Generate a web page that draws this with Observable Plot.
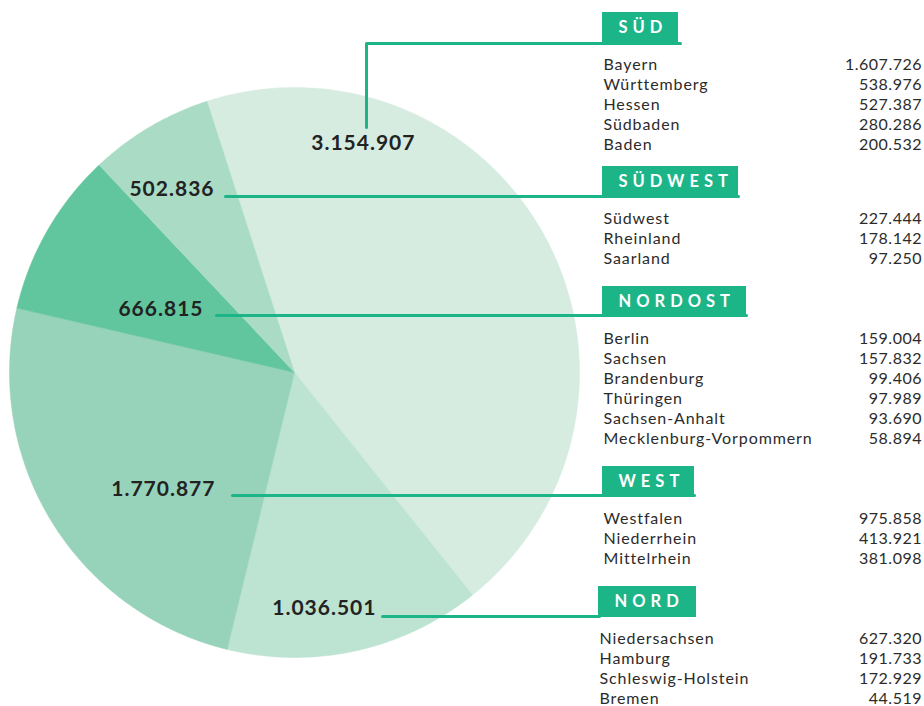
<!DOCTYPE html>
<html>
<head>
<meta charset="utf-8">
<script src="https://cdn.jsdelivr.net/npm/d3@7"></script>
<script src="https://cdn.jsdelivr.net/npm/@observablehq/plot@0.6"></script>
<style>
  body { margin: 0; background: #fff; }
  .hdr text { letter-spacing: 5px; }
  .rowname text { letter-spacing: 0.9px; }
  .rowval text { letter-spacing: 0.5px; }
  .pielab text { letter-spacing: 1px; }
</style>
</head>
<body>
<div id="chart"></div>
<script>
// ---- Data ----
const regions = ["Süd", "Nord", "West", "Nordost", "Südwest"]; // clockwise pie order
const regionTotals = [3154907, 1036501, 1770877, 666815, 502836];

const tableOrder = ["Süd", "Südwest", "Nordost", "West", "Nord"];
const sudNames = ["Bayern", "Württemberg", "Hessen", "Südbaden", "Baden"];
const sudValues = [1607726, 538976, 527387, 280286, 200532];
const suedwestNames = ["Südwest", "Rheinland", "Saarland"];
const suedwestValues = [227444, 178142, 97250];
const nordostNames = ["Berlin", "Sachsen", "Brandenburg", "Thüringen", "Sachsen-Anhalt", "Mecklenburg-Vorpommern"];
const nordostValues = [159004, 157832, 99406, 97989, 93690, 58894];
const westNames = ["Westfalen", "Niederrhein", "Mittelrhein"];
const westValues = [975858, 413921, 381098];
const nordNames = ["Niedersachsen", "Hamburg", "Schleswig-Holstein", "Bremen"];
const nordValues = [627320, 191733, 172929, 44519];

// ---- Styles / layout ----
const sliceColors = {"Süd": "#d6ece1", "Nord": "#bde3d2", "West": "#97d3bb", "Nordost": "#61c59d", "Südwest": "#a9dbc5"};
const green = "#1cb588";
const pieLayout = {cx: 294, cy: 372, r: 285, startDeg: -17.9};
const labelLayout = {
  "Süd":     {x: 415, y: 143, line: [[366,127],[366,43],[680,43]]},
  "Südwest": {x: 214, y: 188.5, line: [[225,196],[738,196]]},
  "Nordost": {x: 203, y: 309, line: [[216,315],[746,315]]},
  "West":    {x: 215, y: 489, line: [[232,495],[694,495]]},
  "Nord":    {x: 376, y: 608, line: [[382,616],[599,616],[599,588]]}
};
const headerLayout = {
  "Süd":     {x1: 602, x2: 678, y1: 12, y2: 43},
  "Südwest": {x1: 602, x2: 738, y1: 166, y2: 197},
  "Nordost": {x1: 602, x2: 746, y1: 286, y2: 316},
  "West":    {x1: 602, x2: 694, y1: 466, y2: 496},
  "Nord":    {x1: 598, x2: 696, y1: 586, y2: 617}
};
const valueRight = 921.5;

// ---- Build ----
const de = d3.formatLocale({decimal: ",", thousands: ".", grouping: [3], currency: ["", "€"]});
const fmt = de.format(",d");

const sliceData = regions.map((r, i) => ({region: r, value: regionTotals[i]}));
const start = pieLayout.startDeg * Math.PI / 180;
const arcs = d3.pie().sort(null).value(d => d.value).startAngle(start).endAngle(start + 2 * Math.PI)(sliceData);

function slicePoints(a) {
  const pts = [{x: pieLayout.cx, y: pieLayout.cy}];
  const n = Math.max(2, Math.ceil((a.endAngle - a.startAngle) / (Math.PI / 360)));
  for (let k = 0; k <= n; k++) {
    const t = a.startAngle + (a.endAngle - a.startAngle) * k / n;
    pts.push({x: pieLayout.cx + pieLayout.r * Math.sin(t), y: pieLayout.cy - pieLayout.r * Math.cos(t)});
  }
  pts.push({x: pieLayout.cx, y: pieLayout.cy});
  return pts;
}

const sliceMarks = arcs.map(a => Plot.line(slicePoints(a), {
  x: "x", y: "y", fill: sliceColors[a.data.region], stroke: sliceColors[a.data.region], strokeWidth: 0.5, curve: "linear"
}));

const pieLabels = sliceData.map(d => ({text: fmt(d.value), x: labelLayout[d.region].x, y: labelLayout[d.region].y}));

const connectorPts = [];
regions.forEach(r => labelLayout[r].line.forEach(([x, y]) => connectorPts.push({region: r, x, y})));

const tables = {
  "Süd": [sudNames, sudValues],
  "Südwest": [suedwestNames, suedwestValues],
  "Nordost": [nordostNames, nordostValues],
  "West": [westNames, westValues],
  "Nord": [nordNames, nordValues]
};
const headers = tableOrder.map(r => ({...headerLayout[r], label: r.toUpperCase(), cy: (headerLayout[r].y1 + headerLayout[r].y2) / 2}));
const rows = [];
tableOrder.forEach(r => {
  const [names, vals] = tables[r];
  const h = headerLayout[r];
  const c = (h.y1 + h.y2) / 2;
  names.forEach((n, i) => rows.push({name: n, value: fmt(vals[i]), xName: h.x1 + 1, y: c + 37 + i * 20}));
});

const chart = Plot.plot({
  width: 924,
  height: 706,
  margin: 0,
  x: {domain: [0, 924], range: [0, 924], axis: null},
  y: {domain: [0, 706], range: [0, 706], axis: null},
  style: {fontFamily: "Lato, sans-serif", background: "#fff"},
  marks: [
    ...sliceMarks,
    Plot.line(connectorPts, {x: "x", y: "y", z: "region", stroke: green, strokeWidth: 3, curve: "linear"}),
    Plot.rect(headers, {x1: "x1", x2: "x2", y1: "y1", y2: "y2", fill: green}),
    Plot.text(headers, {x: d => d.x1 + 16, y: "cy", text: "label", textAnchor: "start", fill: "#fff", fontSize: 16.5, fontWeight: "bold", className: "hdr"}),
    Plot.text(pieLabels, {x: "x", y: "y", text: "text", textAnchor: "end", fill: "#222", fontSize: 21, fontWeight: "bold", className: "pielab"}),
    Plot.text(rows, {x: "xName", y: "y", text: "name", textAnchor: "start", fill: "#2b2b2b", fontSize: 16, className: "rowname"}),
    Plot.text(rows, {x: () => valueRight, y: "y", text: "value", textAnchor: "end", fill: "#2b2b2b", fontSize: 16, className: "rowval"})
  ]
});
document.getElementById("chart").appendChild(chart);
</script>
</body>
</html>
